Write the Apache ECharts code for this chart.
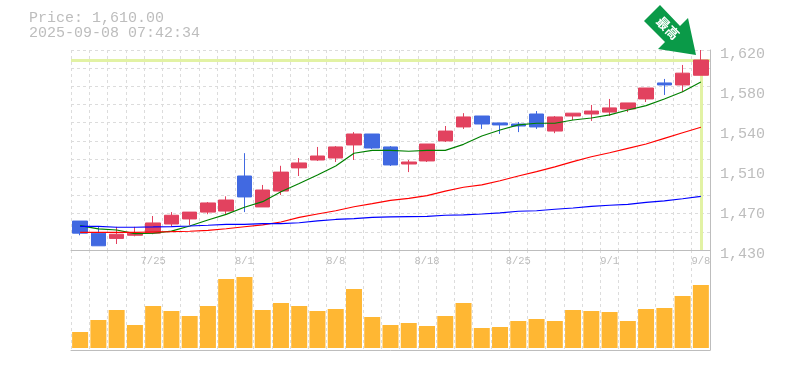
<!DOCTYPE html>
<html>
<head>
<meta charset="utf-8">
<style>html,body{margin:0;padding:0;background:#fff}#c{width:785px;height:370px}</style>
<script src="https://cdn.jsdelivr.net/npm/echarts@6/dist/echarts.min.js"></script>
</head>
<body>
<div id="c"></div>
<script>
const categories = ['7/18','7/22','7/23','7/24','7/25','7/28','7/29','7/30','7/31','8/1','8/4','8/5','8/6','8/7','8/8','8/12','8/13','8/14','8/15','8/18','8/19','8/20','8/21','8/22','8/25','8/26','8/27','8/28','8/29','9/1','9/2','9/3','9/4','9/5','9/8'];
const openValues = [1457.5,1446,1441,1444,1446,1454.7,1459.5,1466,1467,1500.3,1470.9,1486,1508,1515.5,1517.4,1529.8,1540.2,1527.9,1511.7,1514.6,1533.6,1546.9,1557.3,1550.7,1549.7,1559.2,1543,1557.3,1559.2,1561,1564,1573.5,1588.7,1586.8,1596];
const closeValues = [1446,1434,1445,1446,1455.7,1463,1466,1474.7,1477.5,1480.4,1487,1504,1512.7,1519.3,1527.9,1540.2,1526.9,1510.8,1513.6,1530.7,1543,1556.4,1549.7,1548.8,1547.8,1546.9,1556.4,1560,1562,1565,1569.7,1583.9,1586.8,1598,1610.5];
const lowValues = [1444,1434,1435.7,1443,1445,1452.8,1453.7,1464,1464,1466,1471,1482.3,1500.3,1514.6,1513.6,1515.5,1526,1509.8,1504,1513.6,1532.6,1545,1545,1540.2,1542,1545,1541,1553.5,1552.6,1557.3,1561,1570.6,1577.3,1580,1596];
const highValues = [1457.5,1452,1452,1452,1462.3,1466,1466,1475.6,1481,1522,1491.8,1510,1517.4,1527.9,1528.8,1542,1540.2,1528.8,1515.5,1530.7,1547.8,1560,1557.3,1550.7,1551.6,1562,1557.3,1560,1567.8,1573.5,1569.7,1583.9,1592.5,1605.8,1620];
const shortAverage = [1453.1,1450,1449,1445.5,1445.9,1448,1452.8,1458.5,1463.9,1470.6,1475.9,1485.4,1493.2,1501.3,1509.8,1521.9,1524.7,1524.7,1523.8,1524.7,1524.7,1530.4,1538.3,1544,1548.8,1550.4,1550.4,1553.5,1555.4,1558.3,1563,1567.1,1573.5,1580.4,1589.6];
const midAverage = [1446.8,1446.8,1446.8,1446.8,1447.1,1447.4,1447.8,1448.7,1450.2,1452.1,1453.8,1456.6,1461,1464.2,1467.3,1471.1,1474,1477.2,1479.1,1481.6,1486,1489.6,1491.8,1495.8,1500.3,1504.4,1508.9,1513.9,1518.6,1522.4,1526.6,1530.7,1536.1,1541.4,1546.6];
const longAverage = [1452.5,1452.5,1451.6,1451.6,1451.9,1452.3,1452.8,1453.5,1454.4,1454.4,1455,1455,1455.9,1457.6,1459,1459.9,1461,1461.4,1461.8,1462,1463,1463.3,1464.2,1465.2,1466.8,1467.3,1468.7,1469.9,1471.5,1472.5,1473.4,1475.3,1476.6,1478.7,1481];
const volumes = [16,28,38,23,42,37,32,42,69,71,38,45,42,37,39,59,31,23,25,22,32,45,20,21,27,29,27,38,37,36,27,39,40,52,63];
const priceTicks = [1430,1468,1506,1544,1582,1620];
const priceTickLabels = ['1,430','1,470','1,510','1,540','1,580','1,620'];
const currentPrice = 1610;
const priceFloor = 1430;
const lastDate = '9/8';
const titleLines = ['Price: 1,610.00','2025-09-08 07:42:34'];
const badgeText = '最高';

const mono = '"Liberation Mono", monospace';
const gray = '#bdbdbd';
const dash = {color:'#dcdcdc',width:1,type:[3,3]};
const candles = categories.map((_,i)=>[openValues[i],closeValues[i],lowValues[i],highValues[i]]);
const line = (data,color)=>({type:'line',data,xAxisIndex:0,yAxisIndex:0,symbol:'none',z:4,silent:true,
  lineStyle:{color,width:1.2},itemStyle:{color}});

const chart = echarts.init(document.getElementById('c'),null,{renderer:'canvas'});
chart.setOption({
  animation:false,
  backgroundColor:'#fff',
  grid:[
    {left:71,right:75,top:50,height:200},
    {left:71,right:75,top:250,height:100}
  ],
  xAxis:[
    {type:'category',gridIndex:0,data:categories,boundaryGap:true,
     axisLine:{show:true,onZero:false,lineStyle:{color:gray,width:1}},axisTick:{show:false},axisLabel:{show:false},
     splitLine:{show:true,interval:0,lineStyle:dash}},
    {type:'category',gridIndex:1,data:categories,boundaryGap:true,position:'bottom',
     axisLine:{show:true,onZero:false,lineStyle:{color:gray,width:1}},axisTick:{show:false},axisLabel:{show:false},
     splitLine:{show:true,interval:0,lineStyle:dash}},
    {type:'category',gridIndex:1,data:categories,boundaryGap:true,position:'top',
     axisLine:{show:false},axisTick:{show:false},splitLine:{show:false},
     axisLabel:{show:true,inside:true,margin:6,color:gray,fontFamily:mono,fontSize:10.5,
       interval:(i)=>(i+1)%5===0,hideOverlap:false}}
  ],
  yAxis:[
    {type:'value',gridIndex:0,position:'right',min:1430,max:1620,scale:true,
     axisLine:{show:true,lineStyle:{color:gray,width:1}},axisTick:{show:false,customValues:priceTicks},splitLine:{show:false},
     axisLabel:{show:true,customValues:priceTicks,margin:10,color:gray,fontFamily:mono,fontSize:15,verticalAlign:'top',lineHeight:8,
       formatter:(v)=>priceTickLabels[priceTicks.indexOf(v)]}},
    {type:'value',gridIndex:0,position:'left',min:0,max:11,interval:1,
     axisLine:{show:false},axisTick:{show:false},axisLabel:{show:false},splitLine:{show:true,lineStyle:dash}},
    {type:'value',gridIndex:1,position:'right',min:-2,max:98,
     axisLine:{show:true,lineStyle:{color:gray,width:1}},axisTick:{show:false},axisLabel:{show:false},splitLine:{show:false}}
  ],
  series:[
    {type:'line',data:[],xAxisIndex:0,yAxisIndex:0,symbol:'none',z:2,silent:true,
     markLine:{silent:true,z:2,symbol:'none',label:{show:false},animation:false,
       lineStyle:{color:'#e2f2a4',width:3,type:'solid'},
       data:[{yAxis:currentPrice},[{xAxis:lastDate,yAxis:currentPrice},{xAxis:lastDate,yAxis:priceFloor}]]}},
    {type:'candlestick',data:candles,xAxisIndex:0,yAxisIndex:0,barWidth:15,z:3,
     itemStyle:{color:'#e2425f',color0:'#4169e1',borderColor:'#e2425f',borderColor0:'#4169e1',borderWidth:1}},
    line(shortAverage,'#008000'),
    line(midAverage,'#ff0000'),
    line(longAverage,'#0000ff'),
    {type:'bar',data:volumes,xAxisIndex:1,yAxisIndex:2,barWidth:16,z:3,itemStyle:{color:'#ffb733'}}
  ],
  graphic:[
    {type:'text',left:29,top:11,silent:true,style:{text:titleLines[0],fill:gray,font:'15px '+mono}},
    {type:'text',left:29,top:26,silent:true,style:{text:titleLines[1],fill:gray,font:'15px '+mono}},
    {type:'polygon',silent:true,z:10,shape:{points:[[660,5],[680,26],[688,18],[696,55],[658,49],[665,42],[644,21]]},style:{fill:'#0a9a48'}},
    {type:'text',silent:true,z:11,x:668,y:28,rotation:-Math.PI/4,
     style:{text:badgeText,fill:'#fff',font:'bold 13px "Noto Sans CJK JP"',align:'center',verticalAlign:'middle'}}
  ]
});
</script>
</body>
</html>
